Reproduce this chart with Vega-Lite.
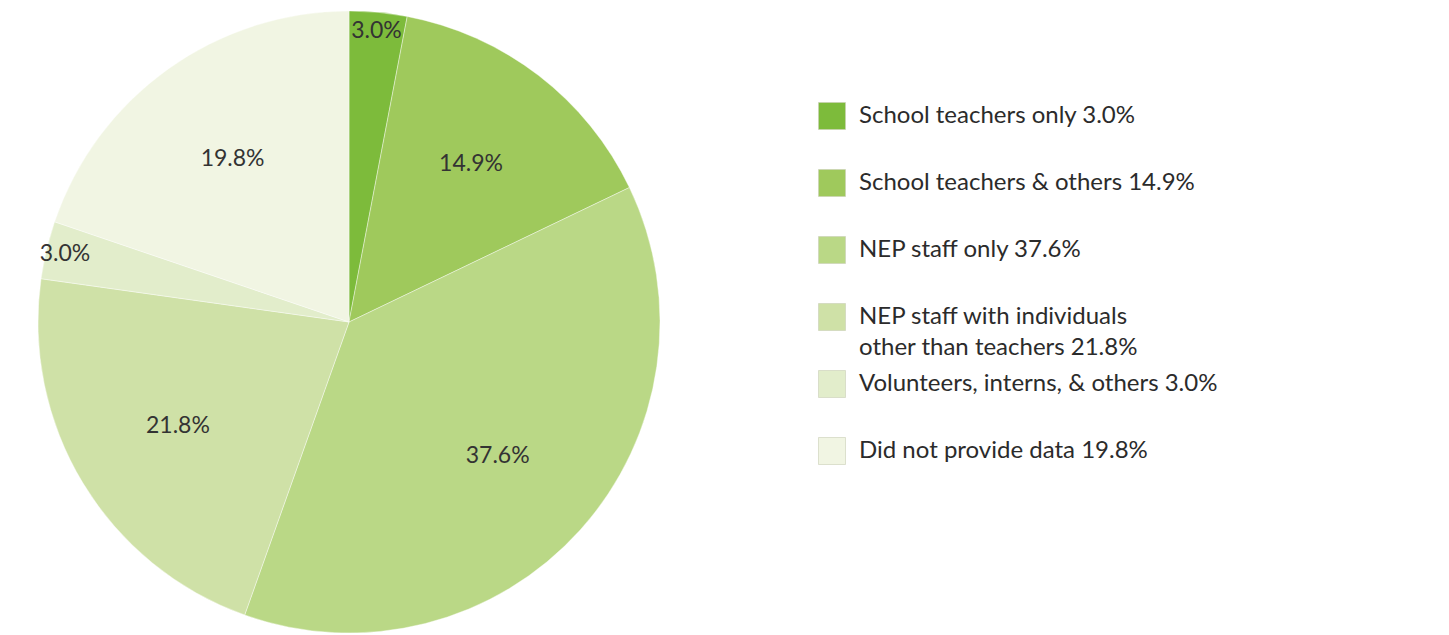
{
  "$schema": "https://vega.github.io/schema/vega-lite/v6.json",
  "width": 698,
  "height": 624,
  "padding": {"left": 0, "top": 10, "right": 0, "bottom": 0},
  "background": "#ffffff",
  "config": {"view": {"stroke": null}, "font": "Lato"},
  "data": {
    "values": [
      {"order": 1, "name": "School teachers only 3.0%", "pct": 3.0, "label": "3.0%"},
      {"order": 2, "name": "School teachers & others 14.9%", "pct": 14.9, "label": "14.9%"},
      {"order": 3, "name": "NEP staff only 37.6%", "pct": 37.6, "label": "37.6%"},
      {"order": 4, "name": "NEP staff with individuals other than teachers 21.8%", "pct": 21.8, "label": "21.8%"},
      {"order": 5, "name": "Volunteers, interns, & others 3.0%", "pct": 3.0, "label": "3.0%"},
      {"order": 6, "name": "Did not provide data 19.8%", "pct": 19.8, "label": "19.8%"}
    ]
  },
  "encoding": {
    "theta": {"field": "pct", "type": "quantitative", "stack": true},
    "order": {"field": "order", "type": "quantitative"},
    "color": {
      "field": "name",
      "type": "nominal",
      "sort": null,
      "scale": {
        "domain": [
          "School teachers only 3.0%",
          "School teachers & others 14.9%",
          "NEP staff only 37.6%",
          "NEP staff with individuals other than teachers 21.8%",
          "Volunteers, interns, & others 3.0%",
          "Did not provide data 19.8%"
        ],
        "range": ["#7dbb3b", "#9fc95c", "#bad886", "#cfe1a7", "#e2edcb", "#f1f5e3"]
      },
      "legend": {
        "title": null,
        "orient": "none",
        "legendX": 818,
        "legendY": 92,
        "padding": 0,
        "symbolType": "square",
        "symbolSize": 729,
        "symbolStrokeColor": "#c9cfb6",
        "symbolStrokeWidth": 0.6,
        "labelFont": "Lato",
        "labelFontSize": 24,
        "labelColor": "#2b2b2b",
        "labelOffset": 13,
        "labelLimit": 600,
        "gridAlign": "all",
        "rowPadding": 9,
        "labelExpr": "indexof(datum.label, 'individuals') >= 0 ? ['NEP staff with individuals', 'other than teachers  21.8%'] : datum.label",
        "encode": {"labels": {"update": {"lineHeight": {"value": 31}}}}
      }
    }
  },
  "layer": [
    {
      "mark": {"type": "arc", "outerRadius": 311, "stroke": "#ffffff", "strokeWidth": 0.4}
    },
    {
      "mark": {"type": "text", "radius": 200, "fontSize": 23, "font": "Lato"},
      "encoding": {
        "text": {"condition": {"test": "datum.pct >= 5", "field": "label"}, "value": ""},
        "color": {"value": "#333333"}
      }
    },
    {
      "mark": {"type": "text", "radius": 292, "fontSize": 23, "font": "Lato"},
      "encoding": {
        "text": {"condition": {"test": "datum.pct < 5", "field": "label"}, "value": ""},
        "color": {"value": "#333333"}
      }
    }
  ]
}
